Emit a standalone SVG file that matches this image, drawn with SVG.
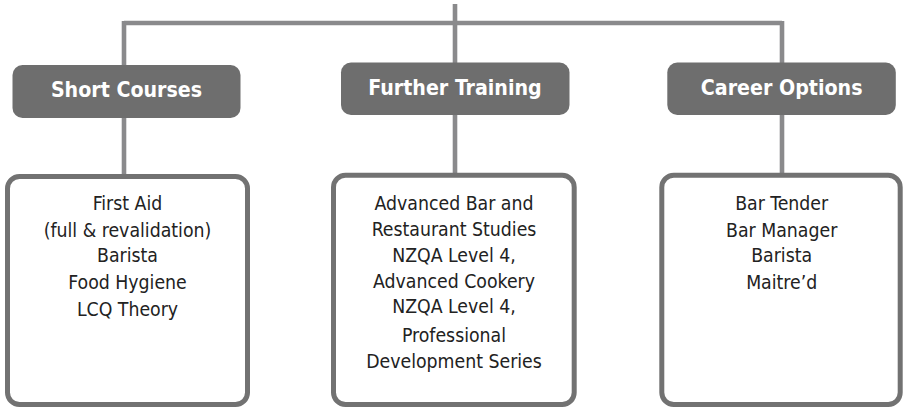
<svg xmlns="http://www.w3.org/2000/svg" width="903" height="407" viewBox="0 0 903 407">
<style>
.conn{stroke:#8a8a8c;stroke-width:4.6;fill:none}
.hdr rect{fill:#6e6e6e}
.hdr text{fill:#ffffff;font-family:"DejaVu Sans Condensed","DejaVu Sans",sans-serif;font-weight:bold;font-size:21.2px;text-anchor:middle}
.box rect{fill:#ffffff;stroke:#727272;stroke-width:5}
.box text{fill:#222222;font-family:"DejaVu Sans Condensed","DejaVu Sans",sans-serif;font-size:19.3px;text-anchor:middle}
</style>
<rect width="903" height="407" fill="#ffffff"/>
<g id="connectors">
<line class="conn" x1="124" y1="23" x2="782" y2="23"/>
<line class="conn" x1="124" y1="21" x2="124" y2="66"/>
<line class="conn" x1="455" y1="4" x2="455" y2="63"/>
<line class="conn" x1="782" y1="21" x2="782" y2="63"/>
<line class="conn" x1="124" y1="117" x2="124" y2="175"/>
<line class="conn" x1="455" y1="114" x2="455" y2="174"/>
<line class="conn" x1="782" y1="114" x2="782" y2="174"/>
</g>
<g id="hdr-short" class="hdr">
<rect x="12.5" y="65" width="228" height="53" rx="10"/>
<text x="126.5" y="97">Short Courses</text>
</g>
<g id="hdr-further" class="hdr">
<rect x="341" y="62.5" width="228.5" height="52.5" rx="10"/>
<text x="455" y="94.8">Further Training</text>
</g>
<g id="hdr-career" class="hdr">
<rect x="667.3" y="62.5" width="228.5" height="52.5" rx="10"/>
<text x="781.7" y="94.8">Career Options</text>
</g>
<g id="box-short" class="box">
<rect x="7.5" y="176.5" width="240" height="228" rx="12"/>
<text x="127.5" y="210">First Aid</text>
<text x="127.5" y="237">(full &amp; revalidation)</text>
<text x="127.5" y="262">Barista</text>
<text x="127.5" y="289">Food Hygiene</text>
<text x="127.5" y="316">LCQ Theory</text>
</g>
<g id="box-further" class="box">
<rect x="333.5" y="175.2" width="240.7" height="229.3" rx="12"/>
<text x="454" y="210">Advanced Bar and</text>
<text x="454" y="236">Restaurant Studies</text>
<text x="454" y="261.7">NZQA Level 4,</text>
<text x="454" y="288.3">Advanced Cookery</text>
<text x="454" y="313.3">NZQA Level 4,</text>
<text x="454" y="341.7">Professional</text>
<text x="454" y="368.3">Development Series</text>
</g>
<g id="box-career" class="box">
<rect x="661.8" y="175.2" width="238.4" height="229.3" rx="12"/>
<text x="781.7" y="210">Bar Tender</text>
<text x="781.7" y="237.3">Bar Manager</text>
<text x="781.7" y="261.7">Barista</text>
<text x="781.7" y="289.3">Maitre’d</text>
</g>
</svg>
